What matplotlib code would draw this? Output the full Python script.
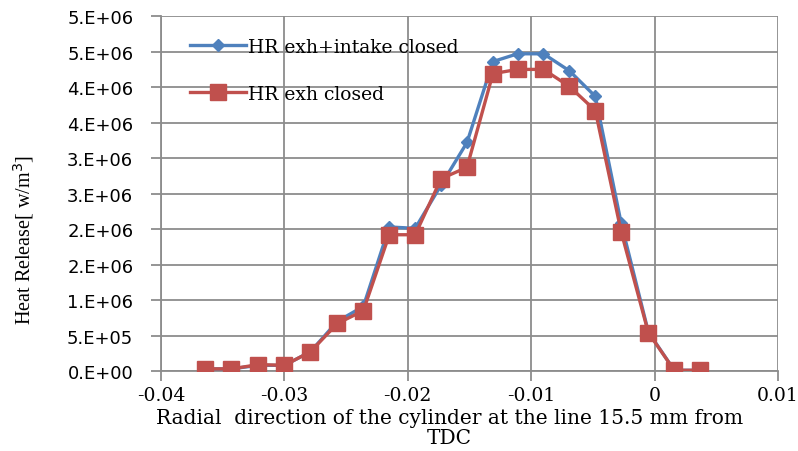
import matplotlib
matplotlib.use("Agg")
import matplotlib.pyplot as plt
from matplotlib.ticker import FuncFormatter, MultipleLocator

# radial position (m) and heat release (W/m3)
radial_pos = [-0.0364, -0.0343, -0.0321, -0.0300, -0.0279, -0.0257, -0.0236,
              -0.0215, -0.0194, -0.0173, -0.0152, -0.0131, -0.0111, -0.0090,
              -0.0069, -0.0048, -0.0027, -0.0005, 0.0016, 0.0037]
hr_exh_intake = [0.03e6, 0.03e6, 0.08e6, 0.08e6, 0.27e6, 0.70e6, 0.91e6,
                 2.03e6, 2.01e6, 2.62e6, 3.22e6, 4.36e6, 4.47e6, 4.47e6,
                 4.23e6, 3.87e6, 2.08e6, 0.55e6, 0.01e6, 0.01e6]
hr_exh = [0.03e6, 0.03e6, 0.09e6, 0.08e6, 0.27e6, 0.67e6, 0.85e6,
          1.92e6, 1.92e6, 2.71e6, 2.87e6, 4.19e6, 4.25e6, 4.25e6,
          4.01e6, 3.67e6, 1.96e6, 0.54e6, 0.01e6, 0.01e6]

label_blue = "HR exh+intake closed"
label_red = "HR exh closed"

GRID = "#8c8c8c"
SERIF = ["DejaVu Serif"]


def excel_sci(v, pos):
    # excel style "0.E+00" labels (mantissa rounded half up)
    if v == 0:
        return "0.E+00"
    exp = 0
    m = abs(v)
    while m >= 10:
        m /= 10
        exp += 1
    return "%d.E+%02d" % (int(m + 0.5), exp)


def x_fmt(v, pos):
    v = round(v, 4)
    if v == 0:
        return "0"
    return "%g" % v


fig = plt.figure(figsize=(7.98, 4.52), dpi=100)
ax = fig.add_axes([0.2018, 0.177, 0.773, 0.785])

ax.plot(radial_pos, hr_exh_intake, color="#4F81BD", lw=2.4, marker="D",
        markersize=6, label=label_blue, zorder=3)
ax.plot(radial_pos, hr_exh, color="#C0504D", lw=2.4, marker="s",
        markersize=11.5, label=label_red, zorder=4)

ax.set_xlim(-0.04, 0.01)
ax.set_ylim(0, 5e6)
ax.xaxis.set_major_locator(MultipleLocator(0.01))
ax.yaxis.set_major_locator(MultipleLocator(5e5))
ax.xaxis.set_major_formatter(FuncFormatter(x_fmt))
ax.yaxis.set_major_formatter(FuncFormatter(excel_sci))

ax.grid(True, color=GRID, lw=1.3, zorder=0)
ax.set_axisbelow(True)
for s in ["top", "right"]:
    ax.spines[s].set_visible(False)
for s in ["left", "bottom"]:
    ax.spines[s].set_color(GRID)
    ax.spines[s].set_linewidth(1.3)

ax.tick_params(axis="both", color=GRID, length=7, width=1.3)
ax.tick_params(axis="y", labelsize=13, pad=13)
ax.tick_params(axis="x", labelsize=13.5, pad=4)
for t in ax.get_xticklabels():
    t.set_family(SERIF)
for t in ax.get_yticklabels():
    t.set_family(["DejaVu Sans"])

ax.set_xlabel("Radial  direction of the cylinder at the line 15.5 mm from\nTDC",
              family=SERIF, fontsize=14.5, linespacing=1.08)
# label sits a little left of the axes centre in the original
ax.xaxis.set_label_coords(0.468, -0.105)
fig.text(0.03, 1 - 240 / 452, "Heat Release[ w/m$^3$]",
         family=["Liberation Serif"], fontsize=14.5, rotation=90,
         ha="center", va="center")

leg = ax.legend(loc="upper left", bbox_to_anchor=(0.035, 0.96), frameon=False,
                prop={"family": SERIF, "size": 13.5}, handlelength=3.0,
                handletextpad=0.1, labelspacing=1.55, borderaxespad=0)

fig.savefig("out.png", dpi=100)
